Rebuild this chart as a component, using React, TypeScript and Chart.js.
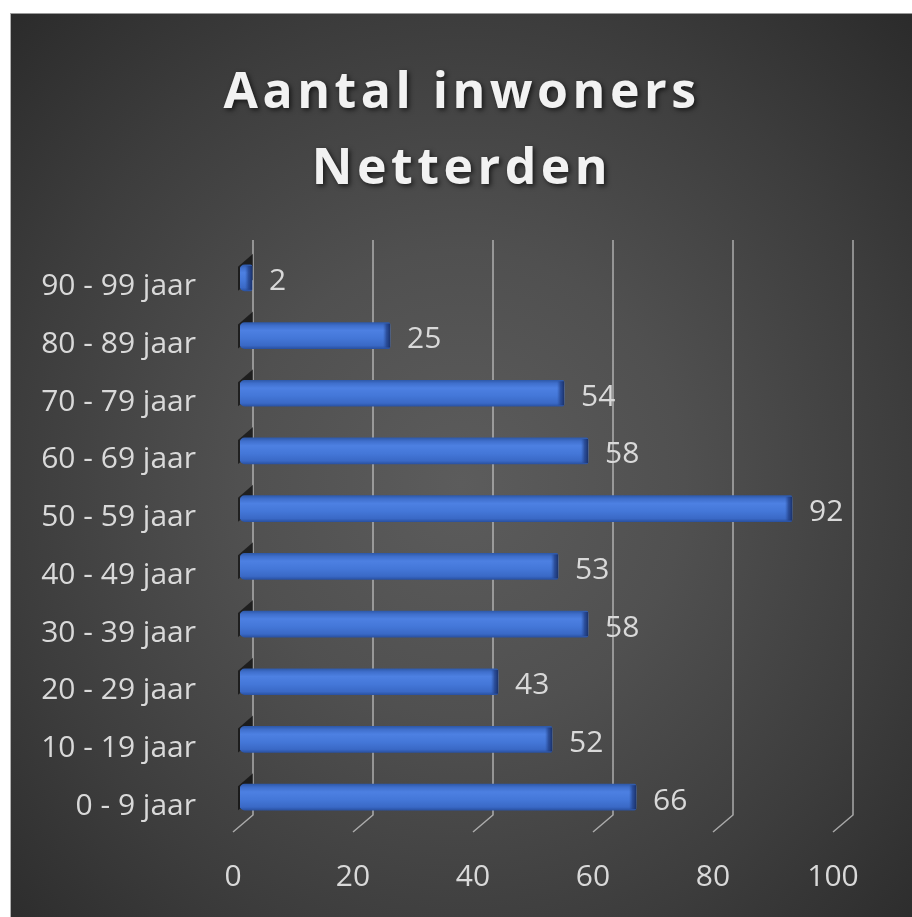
import React, { useEffect, useRef } from "react";
import { Chart, registerables } from "chart.js";

Chart.register(...registerables);

// ---- data ----
const TITLE_LINES = ["Aantal inwoners", "Netterden"];
const CATEGORIES = [
  "0 - 9 jaar",
  "10 - 19 jaar",
  "20 - 29 jaar",
  "30 - 39 jaar",
  "40 - 49 jaar",
  "50 - 59 jaar",
  "60 - 69 jaar",
  "70 - 79 jaar",
  "80 - 89 jaar",
  "90 - 99 jaar",
];
const INWONERS = [66, 52, 43, 58, 53, 92, 58, 54, 25, 2];
const X_MIN = 0;
const X_MAX = 100;
const X_STEP = 20;

// ---- style ----
const FONT = "'Open Sans', 'Noto Sans', sans-serif";
const LABEL_COLOR = "#d9d9d9";
const DEPTH_X = 13;
const DEPTH_Y = 11;
const BAR_T = 26;

const depthPlugin = {
  id: "depth3d",
  beforeDatasetsDraw(chart: any) {
    const { ctx, chartArea: a, scales } = chart;
    const x = scales.x;
    ctx.save();
    // perspective gridlines
    ctx.strokeStyle = "rgba(205,205,205,0.75)";
    ctx.lineWidth = 1.5;
    x.ticks.forEach((t: any) => {
      const px = x.getPixelForValue(t.value);
      ctx.beginPath();
      ctx.moveTo(px + DEPTH_X, a.top - 9);
      ctx.lineTo(px + DEPTH_X, a.bottom - DEPTH_Y);
      ctx.lineTo(px - 7, a.bottom + 6);
      ctx.stroke();
    });
    // dark side faces of the bars on the wall
    const meta = chart.getDatasetMeta(0);
    meta.data.forEach((bar: any) => {
      const p = bar.getProps(["x", "y", "base", "height"], true);
      const top = p.y - p.height / 2;
      const bot = p.y + p.height / 2;
      ctx.fillStyle = "rgba(0,0,0,0.6)";
      ctx.beginPath();
      ctx.moveTo(p.base - 2, top + 2);
      ctx.lineTo(p.base + DEPTH_X, top - DEPTH_Y);
      ctx.lineTo(p.base + DEPTH_X, bot - DEPTH_Y);
      ctx.lineTo(p.base - 2, bot);
      ctx.closePath();
      ctx.fill();
    });
    ctx.restore();
  },
  afterDatasetsDraw(chart: any) {
    const { ctx } = chart;
    const meta = chart.getDatasetMeta(0);
    ctx.save();
    meta.data.forEach((bar: any, i: number) => {
      const p = bar.getProps(["x", "y", "base", "height"], true);
      const top = p.y - p.height / 2;
      // darker end cap
      const capW = Math.min(7, Math.max(3, p.x - p.base));
      const g = ctx.createLinearGradient(p.x - capW, 0, p.x, 0);
      g.addColorStop(0, "rgba(40,75,150,0)");
      g.addColorStop(0.5, "rgba(35,65,135,0.75)");
      g.addColorStop(1, "rgba(25,48,105,0.95)");
      ctx.fillStyle = g;
      ctx.fillRect(p.x - capW, top + 1, capW, p.height - 2);
      // value label
      ctx.font = `30px ${FONT}`;
      ctx.fillStyle = LABEL_COLOR;
      ctx.textAlign = "left";
      ctx.textBaseline = "middle";
      ctx.fillText(String(INWONERS[i]), p.x + 17, p.y + 4);
    });
    ctx.restore();
  },
  afterDraw(chart: any) {
    const { ctx } = chart;
    ctx.save();
    ctx.font = `bold 50px ${FONT}`;
    (ctx as any).letterSpacing = "4.5px";
    ctx.fillStyle = "#f2f2f2";
    ctx.textAlign = "center";
    ctx.textBaseline = "alphabetic";
    ctx.shadowColor = "rgba(0,0,0,0.65)";
    ctx.shadowBlur = 5;
    ctx.shadowOffsetX = 2;
    ctx.shadowOffsetY = 2;
    const cx = chart.width / 2 + 1;
    ctx.fillText(TITLE_LINES[0], cx, 95);
    ctx.fillText(TITLE_LINES[1], cx, 171);
    ctx.restore();
  },
};

export default function App() {
  const ref = useRef<HTMLCanvasElement | null>(null);

  useEffect(() => {
    if (!ref.current) return;
    const chart = new Chart(ref.current, {
      type: "bar",
      data: {
        labels: CATEGORIES,
        datasets: [
          {
            label: "Aantal inwoners",
            data: INWONERS,
            barThickness: BAR_T,
            borderRadius: { topLeft: 5, bottomLeft: 5, topRight: 2, bottomRight: 2 },
            borderSkipped: false,
            backgroundColor: (c: any) => {
              const chart = c.chart;
              const y = chart.scales && chart.scales.y;
              if (!y || c.dataIndex === undefined || !chart.chartArea) return "#4472c4";
              const cy = y.getPixelForValue(c.dataIndex);
              const g = chart.ctx.createLinearGradient(0, cy - BAR_T / 2, 0, cy + BAR_T / 2);
              g.addColorStop(0, "#2f5aab");
              g.addColorStop(0.12, "#3f6fcc");
              g.addColorStop(0.3, "#4d80e2");
              g.addColorStop(0.6, "#4477d8");
              g.addColorStop(0.88, "#3a69c6");
              g.addColorStop(1, "#2a52a3");
              return g;
            },
          },
        ],
      },
      options: {
        indexAxis: "y",
        animation: false,
        responsive: false,
        maintainAspectRatio: false,
        layout: { padding: { top: 236, right: 72, bottom: 0, left: 0 } },
        plugins: {
          legend: { display: false },
          tooltip: { enabled: false },
          title: { display: false },
        },
        scales: {
          x: {
            type: "linear",
            min: X_MIN,
            max: X_MAX,
            grid: { display: false, drawTicks: false },
            border: { display: false },
            ticks: {
              stepSize: X_STEP,
              color: LABEL_COLOR,
              font: { family: FONT, size: 30 },
              padding: 33,
              labelOffset: -7,
              maxRotation: 0,
            },
            afterFit: (s: any) => {
              s.height = 91;
            },
          },
          y: {
            type: "category",
            reverse: true,
            grid: { display: false, drawTicks: false },
            border: { display: false },
            ticks: {
              color: LABEL_COLOR,
              font: { family: FONT, size: 30 },
              padding: 44,
              labelOffset: 9,
              autoSkip: false,
            },
            afterFit: (s: any) => {
              s.width = 230;
            },
          },
        },
      },
      plugins: [depthPlugin],
    } as any);
    return () => chart.destroy();
  }, []);

  return (
    <div
      style={{
        position: "absolute",
        left: 0,
        top: 0,
        width: 912,
        height: 917,
        background: "#ffffff",
        overflow: "hidden",
      }}
    >
      <div
        style={{
          position: "absolute",
          left: 10,
          top: 13,
          width: 902,
          height: 904,
          background:
            "radial-gradient(ellipse at 50% 52%, #5c5c5c 0%, #505050 35%, #3d3d3d 70%, #2b2b2b 100%)",
          borderTop: "1px solid #9a9a9a",
          borderLeft: "1px solid #b0b0b0",
          boxSizing: "border-box",
        }}
      >
        <canvas
          ref={ref}
          width={902}
          height={904}
          style={{ display: "block", width: 902, height: 904, position: "absolute", left: -1, top: -1 }}
        />
      </div>
    </div>
  );
}
